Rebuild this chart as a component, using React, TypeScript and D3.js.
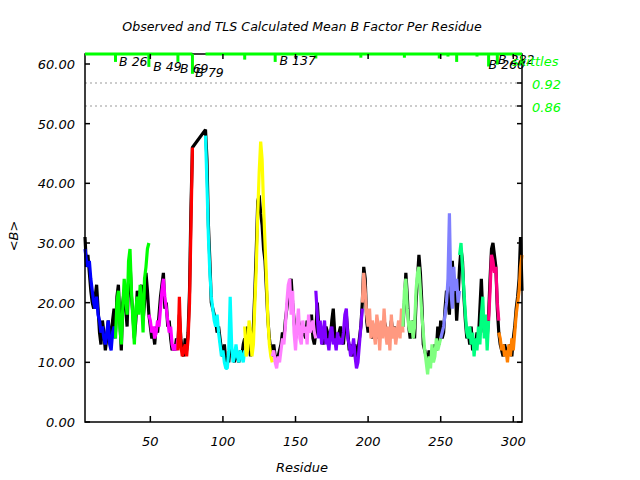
import React from 'react';
import * as d3 from 'd3';

// ---- axis ticks ----
const X_TICKS = [50, 100, 150, 200, 250, 300];
const Y_TICKS = [0, 10, 20, 30, 40, 50, 60];
const SKITTLE_TICKS = [0.92, 0.86];

// ---- observed mean B (black), residues 5..79 and 88..306 ----
const OBS_A_START = 5;
const OBS_A = [
  31, 26, 28, 25, 22, 20, 19, 21, 23, 19, 15, 13, 17, 15, 12, 14, 17, 15, 13, 17, 19, 15,
  21, 23, 17, 12, 20, 22, 19, 16, 24, 27, 21, 18, 14, 17, 22, 19, 21, 23, 17, 20, 25, 22, 18,
  16, 14, 15, 13, 16, 15, 18, 21, 23, 25, 19, 20, 16, 17, 14, 12, 13, 12, 14, 13,
  18, 14, 12, 11, 14, 12, 15, 22, 36, 46,
];
const OBS_B_START = 88;
const OBS_B = [
  49, 44, 33, 27, 20, 19, 18, 17, 15, 16, 14, 12, 11, 13, 10, 11, 10, 13, 12, 11, 10, 12, 11, 10, 12, 11, 13, 14,
  13, 16, 13, 11, 14, 16, 22, 29, 37, 38, 35, 33, 29, 27, 22, 17, 14, 12, 11,
  13, 11, 10, 11, 12, 13, 15, 14, 17, 19, 21, 22, 24, 20, 17, 14, 15, 17, 16, 14, 15, 16, 14, 17, 15, 16, 18, 14, 13, 15,
  20, 16, 15, 14, 13, 15, 16, 15, 13, 14, 17, 19, 15, 13, 14, 15, 16, 14, 13, 16, 18, 15, 12, 13, 11, 12, 13, 10, 12, 14, 16, 20,
  26, 24, 17, 15, 17, 16, 14, 16, 15, 17, 14, 15, 16, 15, 17, 16, 14, 15, 14, 17, 15, 16, 14, 15, 16, 15, 17, 16,
  20, 25, 21, 16, 14, 15, 17, 14, 20, 24, 28, 25, 20, 13, 12, 11, 10, 12, 10, 12, 11, 13, 12, 16, 13, 17,
  14, 15, 19, 22, 20, 18, 25, 27, 22, 23, 17, 21, 26,
  29, 27, 21, 17, 14, 15, 13, 16, 12, 14, 13, 15, 14, 19, 24, 18, 15, 16, 14, 18,
  24, 29, 30, 28, 26, 19, 15,
  13, 12, 11, 13, 12, 11, 12, 13, 11, 14, 16, 19, 21, 24, 31, 22,
];

// ---- TLS calculated segments ----
const SEG_STARTS = [5, 26, 49, 69, 88, 115, 134, 164, 196, 224, 250, 263, 283, 290];
const SEG_COLORS = [
  '#0000ff', '#00ff00', '#ff00ff', '#ff0000', '#00ffff', '#ffff00', '#ff80ff',
  '#8000ff', '#ff9980', '#80ff80', '#8080ff', '#00ff80', '#ff0080', '#ff8000',
];
const CALC_BLUE = [29, 27, 26, 27, 24, 22, 20, 19, 21, 18, 17, 15, 16, 14, 13, 15, 17, 13, 12, 15, 16, 14];
const CALC_GREEN = [14, 20, 22, 16, 13, 19, 24, 21, 18, 27, 29, 22, 17, 13, 19, 21, 18, 23, 20, 15, 24, 26, 29, 30];
const CALC_MAGENTA = [18, 17, 15, 16, 14, 15, 17, 16, 19, 22, 24, 21, 19, 17, 15, 16, 13, 12, 13, 12, 14];
const CALC_RED = [12, 21, 13, 11, 12, 13, 11, 14, 20, 33, 46];
const CALC_CYAN = [48, 40, 31, 25, 21, 19, 17, 16, 18, 15, 13, 11, 12, 10, 9, 9, 12, 21, 13, 10, 11, 13, 11, 10, 12, 11, 10, 12];
const CALC_YELLOW = [16, 11, 12, 17, 15, 11, 13, 20, 26, 35, 42, 47, 44, 36, 30, 24, 17, 13, 11, 10];
const CALC_PINK = [11, 12, 10, 9, 11, 10, 12, 14, 13, 16, 20, 23, 24, 18, 22, 15, 12, 16, 19, 14, 13, 17, 15, 16, 13, 18, 15, 16, 17, 15, 14];
const CALC_PURPLE = [22, 18, 14, 17, 13, 15, 17, 13, 14, 12, 15, 16, 13, 14, 12, 15, 13, 14, 13, 15, 18, 19, 14, 13, 11, 12, 14, 11, 9, 10, 13, 16, 19];
const CALC_SALMON = [20, 25, 22, 18, 16, 19, 14, 17, 15, 13, 18, 16, 12, 17, 14, 19, 15, 13, 16, 12, 18, 14, 16, 13, 15, 17, 14, 19, 15];
const CALC_LGREEN = [16, 22, 24, 19, 16, 15, 17, 14, 16, 22, 25, 26, 22, 18, 15, 12, 10, 8, 11, 9, 13, 10, 11, 14, 12, 13, 14];
const CALC_LBLUE = [14, 15, 16, 18, 20, 24, 35, 22, 19, 26, 22, 24, 20, 22];
const CALC_SPRING = [28, 30, 26, 22, 18, 15, 14, 16, 13, 15, 11, 14, 12, 16, 13, 18, 21, 14, 18, 12, 17];
const CALC_DPINK = [17, 22, 28, 27, 25, 26, 20, 17];
const CALC_ORANGE = [15, 14, 12, 13, 11, 12, 10, 13, 11, 14, 12, 15, 18, 20, 22, 26, 28];
const CALC = [
  CALC_BLUE, CALC_GREEN, CALC_MAGENTA, CALC_RED, CALC_CYAN, CALC_YELLOW, CALC_PINK,
  CALC_PURPLE, CALC_SALMON, CALC_LGREEN, CALC_LBLUE, CALC_SPRING, CALC_DPINK, CALC_ORANGE,
];

// ---- skittles (top strip) ----
const SKITTLE_COVER = [[5, 79], [88, 306]];
const SKITTLE_RES = [26, 49, 69, 79, 115, 136, 164, 195, 225, 249, 255, 261, 275, 283, 289];
const SKITTLE_VAL = [0.975, 0.962, 0.975, 0.944, 0.981, 0.975, 0.984, 0.986, 0.986, 0.984, 0.989, 0.975, 0.989, 0.963, 0.968];
const LABEL_TEXT = ['B 26', 'B 49', 'B 69', 'B 79', 'B 137', 'B 260', 'B 282'];
const LABEL_RES = [28.5, 52, 70.5, 81, 139, 283, 289.5];
const LABEL_VAL = [0.9644, 0.9513, 0.9461, 0.9357, 0.967, 0.9566, 0.9696];

const FONT = "'DejaVu Sans', Verdana, sans-serif";

export default function App() {
  const left = 85, right = 522, top = 54, bottom = 422;
  const x = d3.scaleLinear().domain([5, 306]).range([left, right]);
  const y = d3.scaleLinear().domain([0, 60]).range([bottom, 64]);
  const s = d3.scaleLinear().domain([0.86, 0.92]).range([106, 83]);
  const line = d3.line<[number, number]>().x(d => x(d[0])).y(d => y(d[1]));

  const obsPts: [number, number][] = [
    ...OBS_A.map((v, i) => [OBS_A_START + i, v] as [number, number]),
    ...OBS_B.map((v, i) => [OBS_B_START + i, v] as [number, number]),
  ];

  return (
    <svg width={640} height={480} style={{ position: 'absolute', left: 0, top: 0, background: '#fff' }}
      fontFamily={FONT} fontStyle="italic">
      <text x={302} y={31} fontSize={12.6} textAnchor="middle" fill="#000">
        Observed and TLS Calculated Mean B Factor Per Residue
      </text>

      {/* dotted reference lines */}
      {SKITTLE_TICKS.map(t => (
        <line key={'d' + t} x1={left} x2={right} y1={s(t)} y2={s(t)} stroke="#999" strokeWidth={1} strokeDasharray="2,3" />
      ))}

      {/* data */}
      <path d={line(obsPts) || ''} fill="none" stroke="#000" strokeWidth={3.2} strokeLinejoin="bevel" />
      {CALC.map((arr, k) => (
        <path key={'c' + k}
          d={line(arr.map((v, i) => [SEG_STARTS[k] + i, v] as [number, number])) || ''}
          fill="none" stroke={SEG_COLORS[k]} strokeWidth={3.2} strokeLinejoin="bevel" />
      ))}

      {/* frame */}
      <rect x={left} y={top} width={right - left} height={bottom - top} fill="none" stroke="#000" strokeWidth={1.5} />

      {/* skittles strip */}
      {SKITTLE_COVER.map(([a, b], i) => (
        <line key={'sc' + i} x1={x(a)} x2={x(b)} y1={top} y2={top} stroke="#00ff00" strokeWidth={3} />
      ))}
      {SKITTLE_RES.map((r, i) => (
        <line key={'sk' + i} x1={x(r)} x2={x(r)} y1={top} y2={s(SKITTLE_VAL[i])} stroke="#00ff00" strokeWidth={3} />
      ))}
      {LABEL_TEXT.map((t, i) => (
        <text key={'lb' + i} x={x(LABEL_RES[i])} y={s(LABEL_VAL[i])} fontSize={12.5} fill="#000">{t}</text>
      ))}

      {/* y axis ticks */}
      {Y_TICKS.map(t => (
        <g key={'y' + t}>
          <line x1={left} x2={left + 5} y1={y(t)} y2={y(t)} stroke="#000" strokeWidth={1.5} />
          <line x1={right - 5} x2={right} y1={y(t)} y2={y(t)} stroke="#000" strokeWidth={1.5} />
          <text x={75} y={y(t) + 5} fontSize={13} textAnchor="end" fill="#000">{t.toFixed(2)}</text>
        </g>
      ))}
      {/* x axis ticks */}
      {X_TICKS.map(t => (
        <g key={'x' + t}>
          <line x1={x(t)} x2={x(t)} y1={bottom} y2={bottom - 6} stroke="#000" strokeWidth={1.5} />
          <line x1={x(t)} x2={x(t)} y1={top} y2={top + 5} stroke="#000" strokeWidth={1.5} />
          <text x={x(t)} y={446} fontSize={13} textAnchor="middle" fill="#000">{t}</text>
        </g>
      ))}
      {/* right skittles axis */}
      {SKITTLE_TICKS.map(t => (
        <g key={'s' + t}>
          <line x1={right - 5} x2={right} y1={s(t)} y2={s(t)} stroke="#000" strokeWidth={1.5} />
          <text x={532} y={s(t) + 6} fontSize={13} fill="#00ff00">{t.toFixed(2)}</text>
        </g>
      ))}
      <text x={512} y={66} fontSize={13} fill="#00ff00">skittles</text>

      <text x={302} y={472} fontSize={13} textAnchor="middle" fill="#000">Residue</text>
      <text transform="translate(18,236) rotate(-90)" fontSize={13} textAnchor="middle" fill="#000">{'<B>'}</text>
    </svg>
  );
}
